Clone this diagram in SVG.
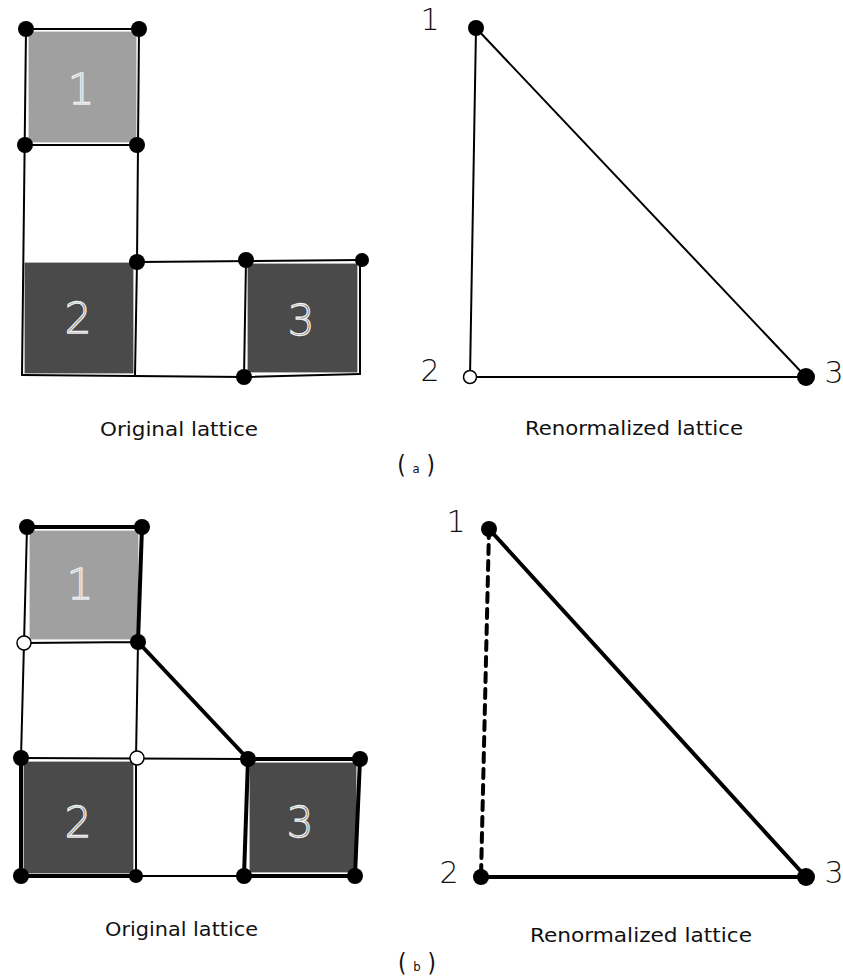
<svg xmlns="http://www.w3.org/2000/svg" width="843" height="978" viewBox="0 0 843 978">
<style>
.bg{fill:#fff}
.ln{stroke:#000;stroke-width:2;fill:none;stroke-linecap:round}
.th{stroke:#000;stroke-width:4;fill:none;stroke-linecap:round}
.dash{stroke:#000;stroke-width:4;fill:none;stroke-dasharray:9 7;stroke-linecap:round}
.lt{fill:#a0a0a0;stroke:#fff;stroke-width:1.2}
.dk{fill:#4a4a4a;stroke:#fff;stroke-width:1.2}
.num{font-family:"DejaVu Sans",sans-serif;font-size:42px;font-weight:200;text-anchor:middle;fill:none;stroke:#eee;stroke-width:1.3}
.lbl{font-family:"DejaVu Sans",sans-serif;font-size:30px;font-weight:200;fill:#111;text-anchor:middle}
.cap{font-family:"DejaVu Sans Condensed","DejaVu Sans",sans-serif;font-size:20px;fill:#111}
.par{font-family:"DejaVu Sans Condensed","DejaVu Sans",sans-serif;font-size:24px;fill:#111;text-anchor:middle}
.sm{font-size:13px}
.f{fill:#000}
.o{fill:#fff;stroke:#000;stroke-width:1.5}
</style>
<rect class="bg" x="0" y="0" width="843" height="978"/>

<!-- (a) original lattice -->
<g id="a-squares">
<rect class="lt" x="28" y="31" width="109" height="112"/>
<rect class="dk" x="24" y="262" width="110" height="112"/>
<rect class="dk" x="247" y="263" width="111" height="110"/>
<text class="num" x="81" y="104">1</text>
<text class="num" x="78" y="333">2</text>
<text class="num" x="301" y="335">3</text>
</g>
<g id="a-connectors">
<path class="ln" d="M26 29 L139 29 M25 145 L137 145 M137 262 L360 260 M22 375 L244 377 L360 374"/>
<path class="ln" d="M26 29 L22 375 M139 29 L137 262 L135 375 M246 260 L244 377 M360 260 L360 374"/>
<path class="ln" d="M476 28 L470 377 L806 377 M476 28 L806 377"/>
</g>
<g id="a-nodes">
<circle class="f" cx="26" cy="29" r="8"/>
<circle class="f" cx="139" cy="29" r="8"/>
<circle class="f" cx="25" cy="145" r="8"/>
<circle class="f" cx="137" cy="145" r="8"/>
<circle class="f" cx="137" cy="262" r="8"/>
<circle class="f" cx="246" cy="260" r="8"/>
<circle class="f" cx="362" cy="260" r="7"/>
<circle class="f" cx="244" cy="377" r="8"/>
</g>
<g id="a-renorm-nodes">
<circle class="f" cx="476" cy="28" r="8"/>
<circle class="o" cx="470" cy="377" r="6.5"/>
<circle class="f" cx="806" cy="377" r="9"/>
<text class="lbl" x="430" y="30">1</text>
<text class="lbl" x="430" y="381">2</text>
<text class="lbl" x="834" y="383">3</text>
</g>
<g id="a-captions">
<text class="cap" x="100" y="436" textLength="158" lengthAdjust="spacingAndGlyphs">Original lattice</text>
<text class="cap" x="525" y="435" textLength="218" lengthAdjust="spacingAndGlyphs">Renormalized lattice</text>
<text class="par" x="416" y="473">( <tspan class="sm">a</tspan> )</text>
</g>

<!-- (b) original lattice -->
<g id="b-squares">
<rect class="lt" x="29" y="530" width="110" height="110"/>
<rect class="dk" x="23" y="761" width="111" height="113"/>
<rect class="dk" x="249" y="762" width="108" height="111"/>
<text class="num" x="80" y="599">1</text>
<text class="num" x="78" y="837">2</text>
<text class="num" x="300" y="837">3</text>
</g>
<g id="b-connectors">
<path class="th" d="M27 527 L142 527 L138 642"/>
<path class="ln" d="M27 527 L24 643 L21 758 M24 643 L138 642 M138 642 L136 758 L136 876"/>
<path class="th" d="M138 642 L248 759"/>
<path class="ln" d="M21 758 L248 759"/>
<path class="th" d="M21 758 L21 876 L136 876"/>
<path class="ln" d="M136 876 L244 876"/>
<path class="th" d="M248 759 L360 759 L355 876 L244 876 Z"/>
<path class="dash" d="M489 529 L481 877"/>
<path class="th" d="M489 529 L806 877 M481 877 L806 877"/>
</g>
<g id="b-nodes">
<circle class="f" cx="27" cy="527" r="8"/>
<circle class="f" cx="142" cy="527" r="8"/>
<circle class="o" cx="24" cy="643" r="7"/>
<circle class="f" cx="138" cy="642" r="8"/>
<circle class="f" cx="21" cy="758" r="8"/>
<circle class="o" cx="137" cy="758" r="7"/>
<circle class="f" cx="248" cy="759" r="8"/>
<circle class="f" cx="360" cy="759" r="8"/>
<circle class="f" cx="21" cy="876" r="8"/>
<circle class="f" cx="136" cy="876" r="7"/>
<circle class="f" cx="244" cy="876" r="8"/>
<circle class="f" cx="355" cy="876" r="8"/>
</g>
<g id="b-renorm-nodes">
<circle class="f" cx="489" cy="529" r="8"/>
<circle class="f" cx="481" cy="877" r="8"/>
<circle class="f" cx="806" cy="877" r="9"/>
<text class="lbl" x="456" y="532">1</text>
<text class="lbl" x="449" y="883">2</text>
<text class="lbl" x="834" y="883">3</text>
</g>
<g id="b-captions">
<text class="cap" x="105" y="936" textLength="153" lengthAdjust="spacingAndGlyphs">Original lattice</text>
<text class="cap" x="530" y="942" textLength="222" lengthAdjust="spacingAndGlyphs">Renormalized lattice</text>
<text class="par" x="417" y="971">( <tspan class="sm">b</tspan> )</text>
</g>
</svg>
